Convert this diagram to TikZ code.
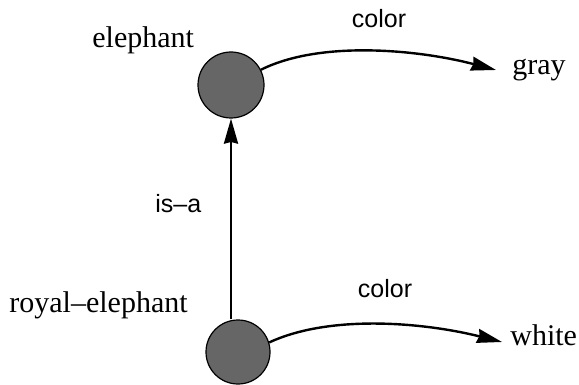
\documentclass[tikz,border=0pt]{standalone}
\usepackage{fontspec}
\setmainfont{Liberation Serif}
\setsansfont{Liberation Sans}
\usetikzlibrary{arrows.meta}
\begin{document}
\begin{tikzpicture}[x=0.5pt,y=-0.5pt,
  concept/.style={circle,draw=black,line width=0.6pt,fill=black!60,inner sep=0pt},
  word/.style={font=\fontsize{15}{18}\selectfont,inner sep=0pt,anchor=base west},
  rel/.style={font=\sffamily\fontsize{12.5}{15}\selectfont,inner sep=0pt,anchor=base},
  arr/.style={line width=1.2pt,-{Stealth[length=12.5pt,width=7pt,inset=0.8pt]}}]
\useasboundingbox (0,0) rectangle (579,385);
\node[concept,minimum size=33pt] (e) at (231,85) {};
\node[concept,minimum size=32pt] (r) at (238,352) {};
\node[word] (el) at (92,48) {elephant};
\node[word] (rl) at (9,313) {royal–elephant};
\node[word] (g) at (512,75) {gray};
\node[word] (w) at (510,345) {white};
\node[rel] (c1) at (379,28) {color};
\node[rel] (c2) at (385,298) {color};
\node[rel,anchor=base west] (isa) at (155,213) {is–a};
\draw[arr] (r.north -| e.south) -- (e.south);
\draw[arr] (e.27) .. controls +(60,-30) and +(-76,-20) .. ([shift={(-16,-5)}]g.base west);
\draw[arr] (r.17) .. controls +(60,-28) and +(-80,-20) .. ([shift={(-8,-3)}]w.base west);
\end{tikzpicture}
\end{document}
